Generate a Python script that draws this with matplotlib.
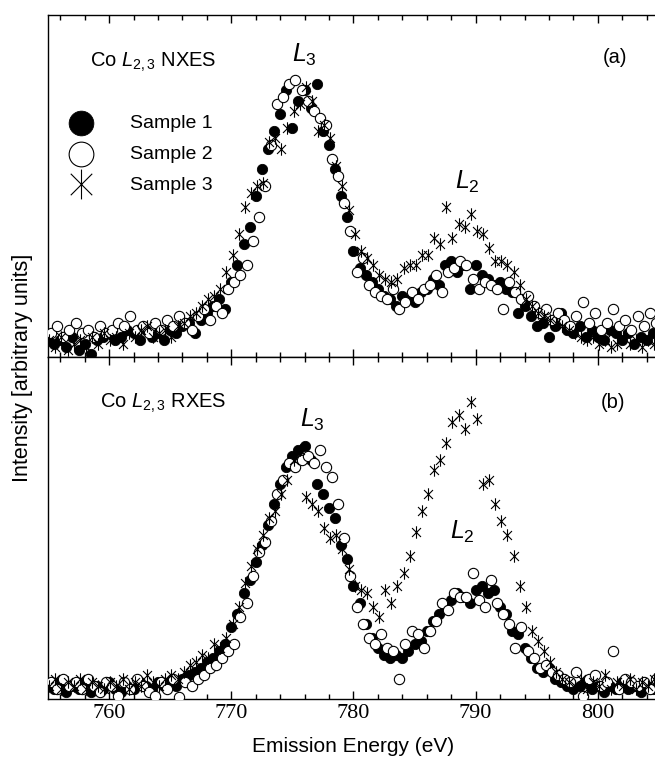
import numpy as np
import matplotlib
matplotlib.use('Agg')
import matplotlib.pyplot as plt
from matplotlib.path import Path
from matplotlib.ticker import MultipleLocator

plt.rcParams['font.family'] = ['Liberation Sans', 'DejaVu Sans']
plt.rcParams['mathtext.fontset'] = 'custom'
plt.rcParams['mathtext.rm'] = 'Liberation Sans'
plt.rcParams['mathtext.it'] = 'Liberation Sans:italic'

# Energie-Raster der Messpunkte (eV)
e1 = np.arange(755.0, 805.0, 0.5)
e2 = np.arange(755.25, 805.0, 0.5)
e3 = np.arange(755.1, 805.0, 0.5)

# (a) NXES, Intensitaet (willkuerliche Einheiten)
nx1 = [6, 4, 5, 3, 6, 2, 4, 1, 5, 6,
       7, 5, 6, 8, 7, 5, 8, 6, 7, 5,
       8, 7, 9, 10, 7, 11, 13, 15, 17, 14,
       22, 27, 33, 38, 47, 55, 61, 66, 71, 78,
       67, 75, 78, 73, 80, 66, 62, 55, 47, 41,
       31, 26, 24, 22, 20, 18, 17, 15, 18, 17,
       16, 19, 20, 23, 21, 27, 28, 25, 27, 20,
       27, 24, 23, 21, 22, 20, 19, 13, 15, 12,
       9, 10, 6, 9, 13, 8, 7, 9, 6, 8,
       6, 5, 8, 7, 5, 7, 4, 6, 5, 7]
nx2 = [7, 9, 6, 8, 10, 7, 8, 6, 9, 7,
       8, 10, 9, 12, 8, 9, 7, 10, 8, 11,
       9, 12, 10, 8, 12, 14, 11, 15, 13, 20,
       22, 24, 27, 34, 41, 50, 62, 74, 76, 80,
       81, 78, 75, 72, 70, 68, 58, 53, 45, 37,
       25, 29, 21, 19, 18, 17, 20, 14, 16, 19,
       17, 20, 21, 24, 19, 25, 26, 28, 27, 23,
       20, 22, 21, 20, 14, 22, 19, 17, 18, 15,
       13, 14, 11, 13, 11, 9, 12, 16, 10, 13,
       8, 10, 14, 9, 11, 8, 12, 9, 13, 10]
nx3 = [5, 3, 6, 2, 4, 5, 3, 6, 4, 7,
       5, 6, 4, 7, 6, 8, 9, 6, 7, 8,
       6, 9, 10, 12, 13, 15, 17, 18, 20, 25,
       30, 36, 44, 48, 50, 51, 63, 64, 61, 67,
       72, 74, 79, 75, 66, 68, 64, 56, 50, 43,
       36, 31, 29, 27, 24, 23, 22, 23, 26, 27,
       27, 30, 30, 35, 33, 44, 35, 39, 38, 42,
       37, 36, 32, 28, 28, 27, 25, 21, 17, 15,
       13, 12, 11, 10, 9, 8, 7, 6, 5, 6,
       4, 5, 3, 4, 6, 4, 5, 3, 5, 4]

# (b) RXES
rx1 = [4, 3, 5, 2, 4, 3, 5, 2, 4, 3,
       5, 3, 2, 4, 3, 5, 4, 3, 5, 4,
       5, 4, 6, 7, 8, 9, 11, 12, 14, 16,
       21, 25, 31, 35, 40, 45, 51, 57, 63, 68,
       71, 73, 74, 70, 63, 60, 56, 53, 45, 41,
       33, 28, 22, 18, 15, 13, 12, 13, 12, 14,
       16, 17, 20, 23, 25, 27, 29, 31, 30, 28,
       32, 33, 31, 32, 27, 25, 20, 19, 15, 12,
       9, 8, 9, 6, 5, 4, 3, 4, 5, 3,
       4, 2, 4, 3, 5, 3, 4, 2, 4, 3]
rx2 = [5, 3, 6, 4, 5, 3, 6, 4, 2, 5,
       4, 1, 5, 3, 6, 4, 2, 1, 5, 3,
       6, 0.5, 5, 4, 6, 7, 9, 10, 12, 14,
       16, 24, 28, 36, 43, 46, 52, 60, 64, 69,
       68, 70, 71, 69, 73, 68, 65, 57, 47, 36,
       27, 22, 18, 16, 19, 15, 14, 6, 16, 20,
       19, 15, 20, 23, 28, 26, 31, 30, 30, 37,
       29, 27, 35, 28, 25, 22, 15, 21, 14, 12,
       9, 10, 8, 7, 6, 5, 8, 1, 6, 7,
       4, 5, 14, 3, 6, 5, 4, 5, 3, 6]
rx3 = [4, 6, 3, 5, 4, 6, 3, 5, 4, 3,
       5, 4, 6, 3, 5, 4, 7, 5, 4, 6,
       7, 6, 8, 10, 11, 13, 12, 16, 15, 18,
       22, 27, 34, 39, 44, 48, 53, 55, 60, 64,
       70, 73, 59, 57, 55, 50, 47, 48, 44, 38,
       33, 32, 31, 27, 24, 32, 28, 33, 37, 42,
       49, 55, 60, 67, 70, 75, 81, 83, 79, 87,
       82, 63, 64, 57, 52, 48, 42, 33, 27, 20,
       17, 14, 11, 8, 6, 5, 4, 6, 3, 5,
       4, 7, 3, 5, 4, 6, 3, 5, 4, 6]

labels = ['Sample 1', 'Sample 2', 'Sample 3']

# Sternchen: senkrecht + zwei Diagonalen
d = 0.72
star = Path([(0, -1), (0, 1), (-d, -d), (d, d), (-d, d), (d, -d)],
            [Path.MOVETO, Path.LINETO] * 3)

fig = plt.figure(figsize=(6.55, 7.6), dpi=100)
ax_a = fig.add_axes([0.0733, 0.530, 0.9327, 0.450])
ax_b = fig.add_axes([0.0733, 0.080, 0.9327, 0.450], sharex=ax_a)


def draw(ax, y1, y2, y3):
    h1 = ax.scatter(e1, y1, s=55, c='black', edgecolors='black', linewidths=0.6, zorder=3)
    h2 = ax.scatter(e2, y2, s=55, facecolors='white', edgecolors='black', linewidths=0.8, zorder=4)
    h3 = ax.scatter(e3, y3, s=80, marker=star, c='black', linewidths=0.8, zorder=5)
    ax.set_ylim(0, 100)
    ax.set_yticks([])
    ax.xaxis.set_major_locator(MultipleLocator(10))
    ax.xaxis.set_minor_locator(MultipleLocator(2))
    ax.tick_params(axis='x', which='both', direction='in', top=True, bottom=True)
    ax.tick_params(axis='x', which='major', length=6, width=1)
    ax.tick_params(axis='x', which='minor', length=3.5, width=1)
    for sp in ax.spines.values():
        sp.set_linewidth(1.0)
    return h1, h2, h3


hs = draw(ax_a, nx1, nx2, nx3)
draw(ax_b, rx1, rx2, rx3)
ax_a.set_xlim(755, 805)
ax_a.tick_params(axis='x', labelbottom=False)
for t in ax_b.get_xticklabels():
    t.set_fontfamily('Liberation Serif')
    t.set_fontsize(16)

# Beschriftungen
ax_a.text(0.069, 0.863, 'Co $\\mathit{L}_{2,3}$ NXES', transform=ax_a.transAxes, fontsize=14.5, va='center')
ax_a.text(0.399, 0.885, '$\\mathit{L}_3$', transform=ax_a.transAxes, fontsize=18, va='center')
ax_a.text(0.928, 0.877, '(a)', transform=ax_a.transAxes, fontsize=14.5, va='center', ha='center')
ax_a.text(0.666, 0.512, '$\\mathit{L}_2$', transform=ax_a.transAxes, fontsize=18, va='center')

ax_b.text(0.085, 0.865, 'Co $\\mathit{L}_{2,3}$ RXES', transform=ax_b.transAxes, fontsize=14.5, va='center')
ax_b.text(0.412, 0.816, '$\\mathit{L}_3$', transform=ax_b.transAxes, fontsize=18, va='center')
ax_b.text(0.925, 0.868, '(b)', transform=ax_b.transAxes, fontsize=14.5, va='center', ha='center')
ax_b.text(0.658, 0.488, '$\\mathit{L}_2$', transform=ax_b.transAxes, fontsize=18, va='center')

ax_a.legend(hs, labels, loc='upper left', bbox_to_anchor=(0.0, 0.75), frameon=False,
            markerscale=2.4, fontsize=14, handletextpad=1.5, labelspacing=0.68,
            borderaxespad=0.3)

ax_b.set_xlabel('Emission Energy (eV)', fontsize=15, labelpad=10)
fig.text(0.034, 0.516, 'Intensity [arbitrary units]', rotation=90, fontsize=15.5,
         va='center', ha='center')

plt.savefig('out.png', dpi=100)
